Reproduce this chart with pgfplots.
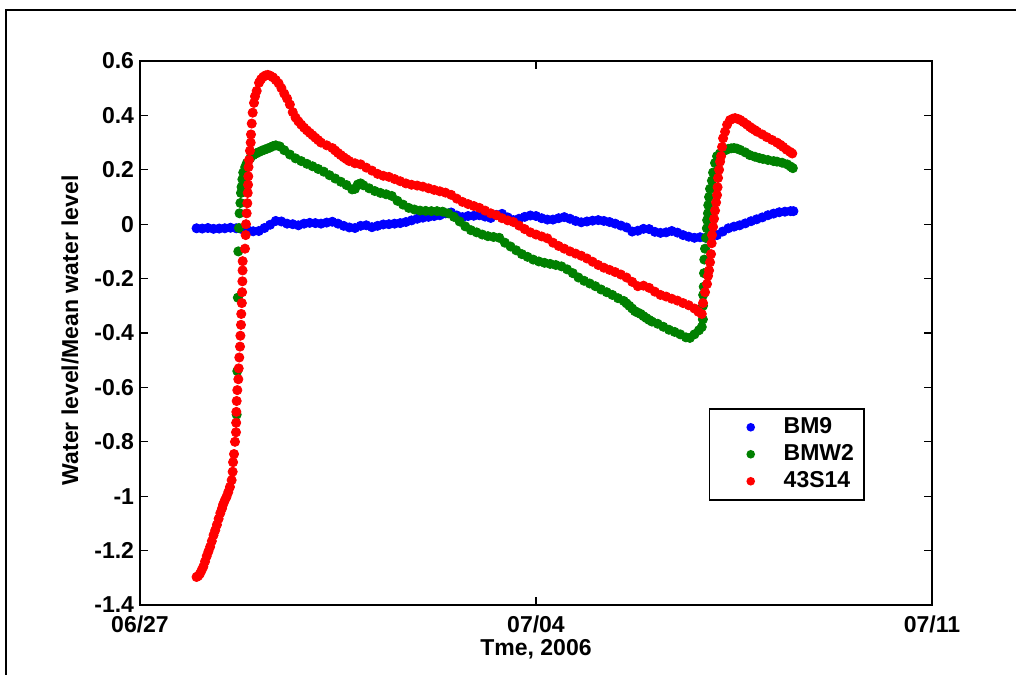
\documentclass[border=0pt]{standalone}
\usepackage{fontspec}
\setmainfont{Liberation Sans}
\usepackage{pgfplots}
\pgfplotsset{compat=1.18}
\definecolor{mblue}{RGB}{0,0,255}
\definecolor{mgreen}{RGB}{0,128,0}
\definecolor{mred}{RGB}{255,0,0}
\newcommand{\lblfont}{\bfseries\fontsize{11.5}{13}\selectfont}

\begin{document}
\begin{tikzpicture}
\useasboundingbox (-70pt,-34.5pt) rectangle (438pt,302.5pt);
% figure frame
\draw[line width=1pt] (-67pt,-40pt) -- (-67pt,297.5pt) -- (445pt,297.5pt);
\begin{axis}[
  scale only axis, width=396pt, height=272pt,
  xmin=0, xmax=14, ymin=-1.4, ymax=0.6,
  xtick={0,7,14}, xticklabels={06/27,07/04,07/11},
  ytick={-1.4,-1.2,-1,-0.8,-0.6,-0.4,-0.2,0,0.2,0.4,0.6},
  yticklabels={-1.4,-1.2,-1,-0.8,-0.6,-0.4,-0.2,0,0.2,0.4,0.6},
  tick align=inside, major tick length=4pt,
  axis line style={line width=0.75pt, black},
  tick style={line width=0.6pt, black},
  ticklabel style={font=\lblfont},
  yticklabel style={inner xsep=1pt, xshift=-1.8pt},
  xticklabel style={inner ysep=1pt, yshift=-4pt},
  xlabel={Tme, 2006},
  ylabel={Water level/Mean water level},
  label style={font=\lblfont},
  xlabel style={at={(axis description cs:0.5,-0.081)}, anchor=center},
  ylabel style={at={(axis description cs:-0.0884,0.505)}, anchor=center},
  legend style={at={(axis description cs:0.7184,0.3621)}, anchor=north west,
    draw=black, line width=0.75pt, inner xsep=4pt, inner ysep=2.5pt,
    row sep=0pt, cells={anchor=west},
    nodes={inner xsep=1pt, inner ysep=1.5pt, text height=8.5pt, text depth=2pt, font=\lblfont}},
  legend image code/.code={\path[draw=none,fill=none] (0pt,0pt) -- (32pt,0pt); \fill (16.5pt,0pt) circle (1.75pt);},
]
\addplot[only marks, mark=*, mark size=2.3pt, color=mblue] coordinates {
(1.0,-0.015)(1.1,-0.016)(1.2,-0.014)(1.3,-0.017)(1.4,-0.016)(1.5,-0.015)(1.6,-0.013)(1.7,-0.015)(1.8,-0.018)(1.9,-0.022)
(2.0,-0.026)(2.1,-0.025)(2.2,-0.014)(2.3,-0.002)(2.4,0.012)(2.5,0.010)(2.6,0.002)(2.7,0.000)(2.8,-0.004)(2.9,0.002)
(3.0,0.005)(3.1,0.004)(3.2,0.002)(3.3,0.006)(3.4,0.009)(3.5,0.002)(3.6,-0.006)(3.7,-0.012)(3.8,-0.014)(3.9,-0.006)
(4.0,-0.004)(4.1,-0.011)(4.2,-0.006)(4.3,-0.001)(4.4,0.000)(4.5,0.002)(4.6,0.004)(4.7,0.008)(4.8,0.014)(4.9,0.020)
(5.0,0.024)(5.1,0.027)(5.2,0.030)(5.3,0.033)(5.4,0.040)(5.5,0.043)(5.6,0.032)(5.7,0.026)(5.8,0.030)(5.9,0.031)
(6.0,0.033)(6.1,0.028)(6.2,0.023)(6.3,0.034)(6.4,0.038)(6.5,0.025)(6.6,0.015)(6.7,0.020)(6.8,0.027)(6.9,0.032)
(7.0,0.030)(7.1,0.022)(7.2,0.017)(7.3,0.017)(7.4,0.022)(7.5,0.026)(7.6,0.020)(7.7,0.012)(7.8,0.007)(7.9,0.010)
(8.0,0.013)(8.1,0.015)(8.2,0.012)(8.3,0.008)(8.4,0.002)(8.5,-0.005)(8.6,-0.012)(8.7,-0.027)(8.8,-0.024)(8.9,-0.017)
(9.0,-0.018)(9.1,-0.028)(9.2,-0.032)(9.3,-0.030)(9.4,-0.025)(9.5,-0.031)(9.6,-0.040)(9.7,-0.046)(9.8,-0.050)(9.9,-0.048)
(10.0,-0.050)(10.1,-0.048)(10.2,-0.040)(10.3,-0.027)(10.4,-0.015)(10.5,-0.009)(10.6,-0.004)(10.7,0.003)(10.8,0.011)(10.9,0.018)
(11.0,0.025)(11.1,0.033)(11.2,0.039)(11.3,0.044)(11.4,0.046)(11.5,0.048)(11.55,0.048)
};
\addlegendentry{BM9}
\addplot[only marks, mark=*, mark size=2.3pt, color=mgreen] coordinates {
(1.709,-0.70)(1.72,-0.54)(1.73,-0.27)(1.738,-0.10)(1.75,-0.014)(1.76,0.04)(1.775,0.078)(1.785,0.115)(1.795,0.137)(1.81,0.165)
(1.825,0.19)(1.86,0.21)(1.89,0.225)(1.95,0.243)(2.00,0.254)(2.05,0.260)(2.10,0.265)(2.15,0.270)(2.20,0.274)(2.25,0.278)
(2.30,0.282)(2.35,0.287)(2.40,0.290)(2.47,0.286)(2.55,0.272)(2.65,0.256)(2.75,0.242)(2.85,0.232)(2.95,0.222)(3.05,0.213)
(3.15,0.203)(3.25,0.193)(3.35,0.180)(3.45,0.168)(3.55,0.156)(3.65,0.144)(3.75,0.128)(3.80,0.130)(3.85,0.146)(3.90,0.150)
(3.95,0.143)(4.05,0.132)(4.15,0.122)(4.25,0.115)(4.35,0.110)(4.45,0.104)(4.55,0.086)(4.65,0.072)(4.75,0.060)(4.85,0.054)
(4.95,0.050)(5.05,0.049)(5.15,0.048)(5.25,0.048)(5.35,0.046)(5.45,0.040)(5.55,0.027)(5.65,0.010)(5.75,-0.008)(5.85,-0.022)
(5.95,-0.030)(6.05,-0.038)(6.15,-0.044)(6.25,-0.047)(6.35,-0.050)(6.45,-0.068)(6.55,-0.082)(6.65,-0.096)(6.75,-0.110)(6.85,-0.120)
(6.95,-0.130)(7.05,-0.137)(7.15,-0.142)(7.25,-0.146)(7.35,-0.150)(7.45,-0.155)(7.55,-0.166)(7.65,-0.180)(7.75,-0.196)(7.85,-0.208)
(7.95,-0.218)(8.05,-0.228)(8.15,-0.240)(8.25,-0.250)(8.35,-0.260)(8.45,-0.272)(8.55,-0.282)(8.60,-0.291)(8.65,-0.300)(8.70,-0.310)
(8.75,-0.320)(8.80,-0.325)(8.85,-0.330)(8.90,-0.338)(8.95,-0.345)(9.00,-0.352)(9.05,-0.358)(9.15,-0.366)(9.25,-0.377)(9.35,-0.388)
(9.45,-0.396)(9.55,-0.405)(9.65,-0.416)(9.72,-0.418)(9.80,-0.405)(9.88,-0.390)(9.93,-0.378)(9.95,-0.350)(9.952,-0.30)(9.955,-0.26)
(9.965,-0.23)(9.97,-0.18)(9.975,-0.13)(9.988,-0.09)(10.005,-0.05)(10.02,-0.015)(10.025,0.015)(10.04,0.04)(10.045,0.07)(10.059,0.10)
(10.076,0.13)(10.11,0.16)(10.13,0.19)(10.165,0.225)(10.20,0.250)(10.25,0.260)(10.29,0.265)(10.35,0.272)(10.40,0.277)(10.45,0.279)
(10.50,0.280)(10.55,0.278)(10.61,0.273)(10.70,0.264)(10.78,0.254)(10.87,0.248)(10.95,0.243)(11.01,0.240)(11.10,0.236)(11.20,0.232)
(11.26,0.230)(11.35,0.226)(11.44,0.220)(11.50,0.212)(11.54,0.206)
};
\addlegendentry{BMW2}
\addplot[only marks, mark=*, mark size=2.3pt, color=mred] coordinates {
(1.00,-1.297)(1.03,-1.293)(1.06,-1.285)(1.09,-1.272)(1.12,-1.259)(1.15,-1.240)(1.18,-1.220)(1.21,-1.203)(1.24,-1.186)(1.27,-1.165)
(1.30,-1.143)(1.33,-1.125)(1.36,-1.105)(1.39,-1.083)(1.42,-1.062)(1.45,-1.045)(1.47,-1.030)(1.50,-1.015)(1.53,-1.002)(1.56,-0.985)
(1.59,-0.966)(1.62,-0.941)(1.638,-0.91)(1.645,-0.875)(1.662,-0.845)(1.679,-0.80)(1.697,-0.765)(1.70,-0.73)(1.703,-0.69)(1.709,-0.65)
(1.72,-0.61)(1.738,-0.57)(1.745,-0.53)(1.755,-0.49)(1.768,-0.45)(1.775,-0.41)(1.785,-0.37)(1.79,-0.33)(1.80,-0.29)(1.805,-0.25)
(1.81,-0.21)(1.813,-0.17)(1.815,-0.136)(1.856,-0.09)(1.868,-0.04)(1.874,0.0)(1.886,0.04)(1.897,0.077)(1.904,0.115)(1.910,0.145)
(1.914,0.176)(1.918,0.21)(1.927,0.236)(1.944,0.27)(1.957,0.30)(1.962,0.33)(1.975,0.37)(1.992,0.41)(2.015,0.446)(2.033,0.47)
(2.063,0.49)(2.104,0.52)(2.14,0.533)(2.18,0.542)(2.22,0.547)(2.26,0.549)(2.30,0.546)(2.35,0.540)(2.40,0.530)(2.45,0.518)
(2.50,0.500)(2.55,0.480)(2.60,0.462)(2.65,0.440)(2.70,0.412)(2.75,0.392)(2.80,0.378)(2.85,0.366)(2.90,0.355)(2.95,0.345)
(3.00,0.336)(3.05,0.327)(3.10,0.318)(3.15,0.309)(3.20,0.300)(3.30,0.290)(3.40,0.280)(3.45,0.271)(3.50,0.262)(3.55,0.254)
(3.60,0.246)(3.65,0.239)(3.70,0.232)(3.80,0.224)(3.90,0.220)(4.00,0.208)(4.10,0.197)(4.20,0.185)(4.30,0.178)(4.40,0.174)
(4.50,0.166)(4.60,0.158)(4.70,0.150)(4.80,0.145)(4.90,0.142)(5.00,0.138)(5.10,0.132)(5.20,0.126)(5.30,0.121)(5.40,0.116)
(5.50,0.108)(5.60,0.094)(5.70,0.082)(5.80,0.074)(5.90,0.067)(6.00,0.060)(6.10,0.050)(6.20,0.040)(6.30,0.033)(6.40,0.022)
(6.50,0.014)(6.60,0.008)(6.70,-0.005)(6.80,-0.018)(6.90,-0.030)(7.00,-0.038)(7.10,-0.045)(7.20,-0.052)(7.30,-0.068)(7.40,-0.080)
(7.50,-0.090)(7.60,-0.100)(7.70,-0.108)(7.80,-0.116)(7.90,-0.126)(8.00,-0.138)(8.10,-0.150)(8.20,-0.160)(8.30,-0.168)(8.40,-0.176)
(8.50,-0.185)(8.60,-0.196)(8.70,-0.212)(8.80,-0.228)(8.90,-0.226)(9.00,-0.234)(9.10,-0.248)(9.20,-0.260)(9.30,-0.266)(9.40,-0.274)
(9.50,-0.281)(9.60,-0.290)(9.70,-0.298)(9.80,-0.310)(9.87,-0.322)(9.93,-0.330)(9.952,-0.29)(9.988,-0.25)(10.023,-0.22)(10.041,-0.19)
(10.059,-0.17)(10.076,-0.14)(10.094,-0.11)(10.105,-0.07)(10.112,-0.04)(10.13,-0.01)(10.147,0.02)(10.165,0.05)(10.183,0.08)(10.20,0.107)
(10.21,0.136)(10.218,0.17)(10.236,0.20)(10.254,0.23)(10.271,0.25)(10.289,0.284)(10.307,0.316)(10.342,0.34)(10.378,0.366)(10.43,0.383)
(10.48,0.388)(10.52,0.390)(10.57,0.387)(10.61,0.383)(10.67,0.375)(10.73,0.366)(10.78,0.358)(10.82,0.352)(10.87,0.346)(10.91,0.340)
(11.00,0.330)(11.08,0.320)(11.17,0.310)(11.26,0.300)(11.32,0.292)(11.37,0.284)(11.43,0.274)(11.49,0.266)(11.53,0.260)
};
\addlegendentry{43S14}
\end{axis}
\end{tikzpicture}
\end{document}
